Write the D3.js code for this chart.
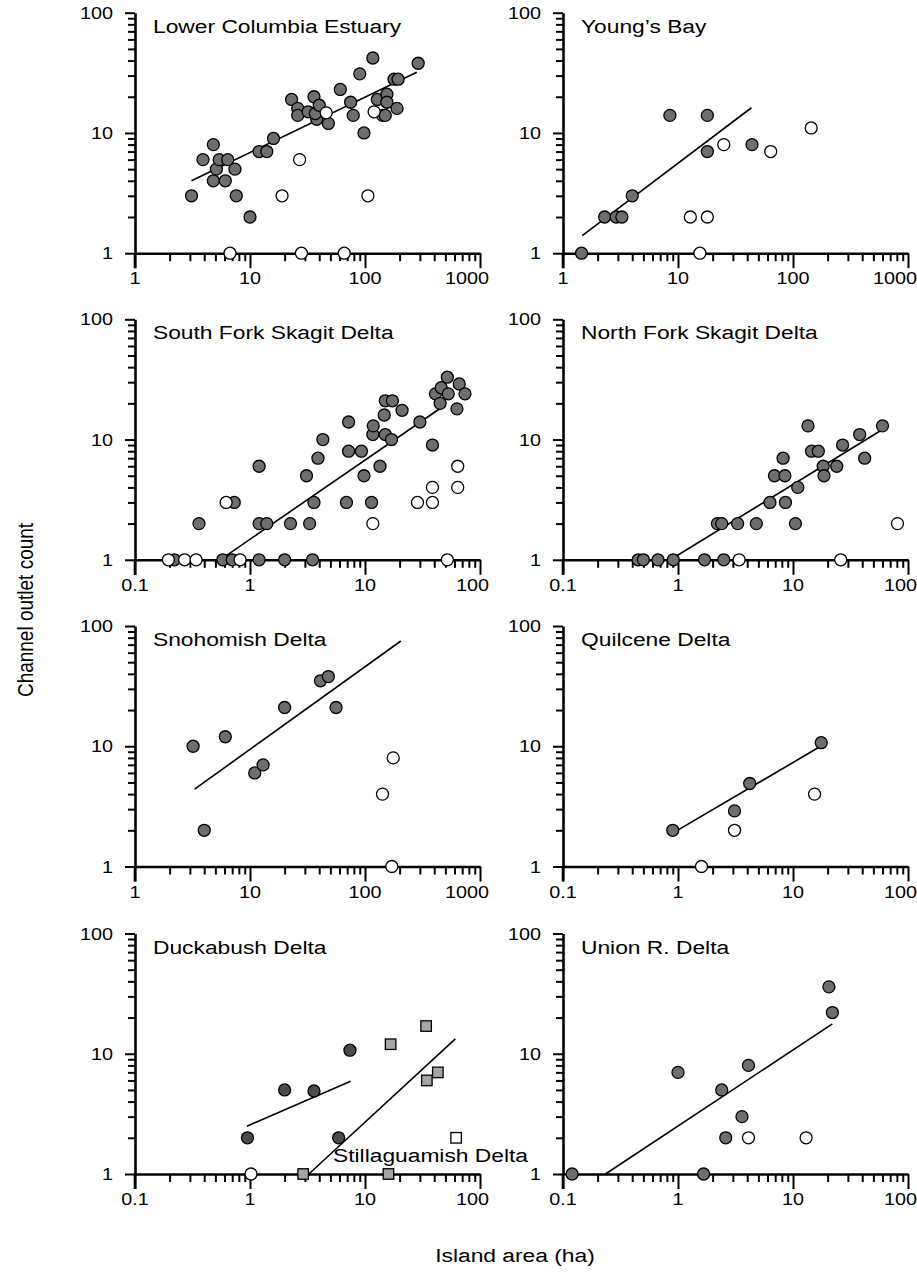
<!DOCTYPE html>
<html>
<head>
<meta charset="utf-8">
<script src="https://cdn.jsdelivr.net/npm/d3@7"></script>
<style>
  body { margin: 0; background: #fff; }
  svg { display: block; }
</style>
</head>
<body>
<div id="chart"></div>
<script>
// island area (ha) vs channel outlet count, one panel per delta

// Lower Columbia Estuary
const lceFilled = [[3.1,3],[3.9,6],[4.8,8],[5.1,5],[5.4,6],[4.8,4],[6.4,6],[6.1,4],[7.4,5],[7.6,3],[10,2],[12,7],[14,7],[16,9],[23,19],[26,16],[26,14],[32,15],[36,20],[38,13],[37,14.5],[40,17],[48,12],[61,23],[75,18],[79,14],[90,31],[98,10],[117,42],[128,19],[142,14],[155,21],[155,18],[150,14],[179,28],[194,28],[190,16],[290,38]];
const lceOpen = [[6.7,1],[27,6],[19,3],[28,1],[46,14.7],[66,1],[106,3],[120,15]];
const lceFit = [[3.1,4.0],[282,32]];

// Young's Bay
const ybFilled = [[1.45,1],[2.3,2],[2.9,2],[3.25,2],[4,3],[8.5,14],[18,14],[18,7],[44,8]];
const ybOpen = [[15.5,1],[12.8,2],[18,2],[25,8],[64,7],[144,11]];
const ybFit = [[1.47,1.4],[43.5,16.2]];

// South Fork Skagit Delta
const sfFilled = [[0.22,1],[0.36,2],[0.58,1],[0.7,1],[0.73,3],[1.2,1],[1.2,6],[1.2,2],[1.4,2],[2,1],[2.25,2],[3.1,5],[3.3,2],[3.5,1],[3.6,3],[3.9,7],[4.3,10],[6.9,3],[7.2,14],[7.2,8],[9.3,8],[9.8,5],[11.4,3],[11.7,11],[11.8,13],[13.5,6],[14.7,16],[15,11],[15,21],[17.3,21],[17,10],[21,17.5],[30,14],[38.6,9],[41,24],[45,20],[46,27],[52,33],[53,24],[63,18],[66,29],[74,24]];
const sfOpen = [[0.195,1],[0.27,1],[0.34,1],[0.62,3],[0.82,1],[11.7,2],[28.6,3],[38.6,3],[38.6,4],[52,1],[64,6],[64,4]];
const sfFit = [[0.55,1],[49,19.2]];

// North Fork Skagit Delta
const nfFilled = [[0.45,1],[0.5,1],[0.67,1],[0.91,1],[1.7,1],[2.5,1],[2.2,2],[2.4,2],[3.3,2],[4.8,2],[6.3,3],[6.9,5],[8.2,7],[8.5,5],[8.6,3],[10.5,2],[11,4],[13.5,13],[14.5,8],[16.6,8],[18.3,6],[18.6,5],[24,6],[27,9],[38,11],[42,7],[60,13]];
const nfOpen = [[3.4,1],[26,1],[81,2]];
const nfFit = [[0.93,1.05],[59,12]];

// Snohomish Delta
const snFilled = [[3.2,10],[4,2],[6.1,12],[11,6],[13,7],[20,21],[41,35],[48,38],[56,21]];
const snOpen = [[142,4],[176,8],[171,1]];
const snFit = [[3.3,4.4],[205,75]];

// Quilcene Delta
const quFilled = [[0.9,2],[3.1,2.9],[4.2,4.9],[17.6,10.7]];
const quOpen = [[1.6,1],[3.1,2],[15.4,4]];
const quFit = [[0.93,1.93],[16.8,9.8]];

// Duckabush Delta (circles) + Stillaguamish Delta (squares)
const duFilled = [[0.95,2],[2,5],[3.6,4.9],[5.9,2],[7.4,10.7]];
const duOpen = [[1.02,1]];
const duFit = [[0.94,2.5],[7.5,5.9]];
const stFilled = [[2.9,1],[16.7,12],[34,17],[34.5,6],[43,7],[16,1]];
const stOpen = [[62,2]];
const stFit = [[3.25,1],[61,13.3]];

// Union R. Delta
const unFilled = [[0.12,1],[1.0,7],[1.67,1],[2.4,5],[2.6,2],[3.6,3],[4.1,8],[20.5,36],[22,22]];
const unOpen = [[4.1,2],[13,2]];
const unFit = [[0.234,1],[22,17.7]];

// axes
const wideX = [1, 1000];
const narrowX = [0.1, 100];
const yDomain = [1, 100];
const yTitle = "Channel outlet count";
const xTitle = "Island area (ha)";

const panels = [
    { title: "Lower Columbia Estuary", xd: wideX, filled: lceFilled, open: lceOpen, fit: lceFit },
    { title: "Young\u2019s Bay", xd: wideX, filled: ybFilled, open: ybOpen, fit: ybFit },
    { title: "South Fork Skagit Delta", xd: narrowX, filled: sfFilled, open: sfOpen, fit: sfFit },
    { title: "North Fork Skagit Delta", xd: narrowX, filled: nfFilled, open: nfOpen, fit: nfFit },
    { title: "Snohomish Delta", xd: wideX, filled: snFilled, open: snOpen, fit: snFit },
    { title: "Quilcene Delta", xd: narrowX, filled: quFilled, open: quOpen, fit: quFit },
    { title: "Duckabush Delta", xd: narrowX, filled: duFilled, open: duOpen, fit: duFit, dark: true,
      extra: { label: "Stillaguamish Delta", filled: stFilled, open: stOpen, fit: stFit } },
    { title: "Union R. Delta", xd: narrowX, filled: unFilled, open: unOpen, fit: unFit }
];

// layout
const width = 917;
const height = 1281;
const colX = [135, 563];
const rowY = [12.7, 319.3, 626, 933.5];
const plotW = 345;
const plotH = 240.5;
const stretch = 1.2;   // the figure is squeezed wider than tall
const font = "'Liberation Sans', Arial, sans-serif";
const fillGrey = "#6e6e6e";
const fillDark = "#4b4b4b";
const fillSquare = "#a6a6a6";
const r = 6;

const svg = d3.select("#chart")
    .append("svg")
    .attr("width", width)
    .attr("height", height)
    .style("font-family", font);

function addText(g, x, y, str, size, anchor) {
    return g.append("text")
        .attr("transform", `translate(${x},${y}) scale(${stretch},1)`)
        .attr("text-anchor", anchor || "start")
        .attr("font-size", size)
        .attr("fill", "#000")
        .text(str);
}

function minorTicks(domain) {
    const out = [];
    for (let p = domain[0]; p < domain[1]; p *= 10) {
        for (let k = 2; k <= 9; k++) out.push(+(p * k).toPrecision(3));
    }
    return out;
}
function majorTicks(domain) {
    const out = [];
    for (let p = domain[0]; p <= domain[1] * 1.001; p *= 10) out.push(+p.toPrecision(3));
    return out;
}

panels.forEach((p, i) => {
    const ox = colX[i % 2];
    const oy = rowY[Math.floor(i / 2)];
    const g = svg.append("g").attr("transform", `translate(${ox},${oy})`);

    const x = d3.scaleLog().domain(p.xd).range([0, plotW]);
    const y = d3.scaleLog().domain(yDomain).range([plotH, 0]);

    // x axis: minor then major ticks
    const xMinor = g.append("g").attr("transform", `translate(0,${plotH})`)
        .call(d3.axisBottom(x).tickValues(minorTicks(p.xd)).tickSize(8).tickSizeOuter(0).tickFormat(""));
    xMinor.select(".domain").remove();
    const xMajor = g.append("g").attr("transform", `translate(0,${plotH})`)
        .call(d3.axisBottom(x).tickValues(majorTicks(p.xd)).tickSize(15).tickSizeOuter(0).tickFormat(""));

    const yMinor = g.append("g")
        .call(d3.axisLeft(y).tickValues(minorTicks(yDomain)).tickSize(7).tickSizeOuter(0).tickFormat(""));
    yMinor.select(".domain").remove();
    const yMajor = g.append("g")
        .call(d3.axisLeft(y).tickValues(majorTicks(yDomain)).tickSize(10).tickSizeOuter(0).tickFormat(""));

    g.selectAll(".tick line").attr("stroke", "#000").attr("stroke-width", 2);
    g.selectAll(".domain").attr("stroke", "#000").attr("stroke-width", 2.6);
    // y axis runs down to the end of the first x tick
    g.append("line")
        .attr("x1", 0).attr("x2", 0)
        .attr("y1", plotH).attr("y2", plotH + 15)
        .attr("stroke", "#000").attr("stroke-width", 2.6);

    // tick labels
    const xt = majorTicks(p.xd);
    xt.forEach((v, j) => {
        const last = j === xt.length - 1;
        addText(g, last ? x(v) + 9 : x(v), plotH + 31, String(v), 16.5, last ? "end" : "middle");
    });
    majorTicks(yDomain).forEach(v => {
        addText(g, -22, y(v) + 6, String(v), 16.5, "end");
    });

    // title
    addText(g, 18, 20, p.title, 19, "start");

    // fit lines
    const line = d3.line().x(d => x(d[0])).y(d => y(d[1]));
    const fits = [p.fit];
    if (p.extra) fits.push(p.extra.fit);
    g.selectAll("path.fit")
        .data(fits)
        .enter().append("path")
        .attr("class", "fit")
        .attr("d", line)
        .attr("fill", "none")
        .attr("stroke", "#000")
        .attr("stroke-width", 1.6);

    if (p.extra) {
        addText(g, 333 - ox, 1161.5 - oy, p.extra.label, 19, "start");
        const sq = 10.5;
        g.selectAll("rect.sq")
            .data(p.extra.filled.map(d => ({ d, open: false })).concat(p.extra.open.map(d => ({ d, open: true }))))
            .enter().append("rect")
            .attr("class", "sq")
            .attr("x", e => x(e.d[0]) - sq / 2)
            .attr("y", e => y(e.d[1]) - sq / 2)
            .attr("width", sq)
            .attr("height", sq)
            .attr("fill", e => e.open ? "#fff" : fillSquare)
            .attr("stroke", "#000")
            .attr("stroke-width", 1.3);
    }

    // points
    const pts = p.filled.map(d => ({ d, open: false })).concat(p.open.map(d => ({ d, open: true })));
    g.selectAll("circle")
        .data(pts)
        .enter().append("circle")
        .attr("cx", e => x(e.d[0]))
        .attr("cy", e => y(e.d[1]))
        .attr("r", r)
        .attr("fill", e => e.open ? "#fff" : (p.dark ? fillDark : fillGrey))
        .attr("stroke", "#000")
        .attr("stroke-width", 1.3);
});

// shared axis titles
svg.append("text")
    .attr("transform", `translate(33,610) scale(${stretch},1) rotate(-90)`)
    .attr("text-anchor", "middle")
    .attr("font-size", 19)
    .text(yTitle);

addText(svg, 515, 1262, xTitle, 19, "middle");
</script>
</body>
</html>
